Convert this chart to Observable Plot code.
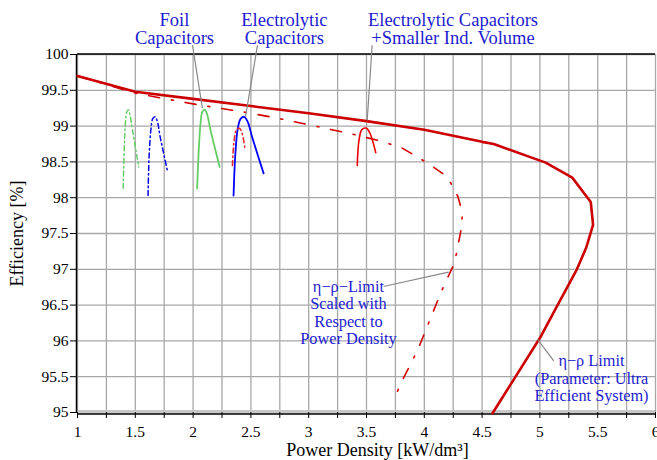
<!DOCTYPE html>
<html><head><meta charset="utf-8">
<script src="https://cdn.jsdelivr.net/npm/d3@7"></script>
<script src="https://cdn.jsdelivr.net/npm/@observablehq/plot@0.6"></script>
<style>
body{margin:0;background:#fff}
svg{display:block}
svg, svg text, svg tspan {font-family: "Liberation Serif", "Times New Roman", "DejaVu Serif", serif !important;}
</style>
</head><body><div id="chart"></div>
<script>
// ---- tick values ----
const xTicks = [1,1.25,1.5,1.75,2,2.25,2.5,2.75,3,3.25,3.5,3.75,4,4.25,4.5,4.75,5,5.25,5.5,5.75,6];
const yTicks = [95,95.5,96,96.5,97,97.5,98,98.5,99,99.5,100];

// ---- series: η-ρ limit (ultra efficient system) ----
const limitX = [1,1.5,2,2.5,3,3.5,4,4.5,4.6,5.05,5.28,5.44,5.46,5.40,5.32,5.16,5.0,4.59];
const limitY = [99.7,99.48,99.38,99.28,99.18,99.07,98.95,98.78,98.75,98.49,98.28,97.94,97.62,97.30,97.0,96.52,96.04,94.99];

// ---- series: η-ρ limit scaled with respect to power density ----
const scaledX = [1,1.5,2,2.5,2.76,3.0,3.4,3.6,3.8,3.95,4.06,4.2,4.29,4.33,4.32,4.28,4.25,4.15,4.08,4.02,3.95,3.88,3.8,3.73];
const scaledY = [99.7,99.46,99.31,99.18,99.1,99.02,98.88,98.8,98.7,98.56,98.45,98.29,98.02,97.79,97.57,97.23,97.05,96.7,96.42,96.18,95.9,95.67,95.42,95.15];

// ---- small design curves ----
const foilDashX = [1.395,1.405,1.415,1.427,1.44,1.455,1.475,1.53];
const foilDashY = [98.13,98.7,99.05,99.2,99.23,99.15,98.95,98.43];
const elecDashX = [1.61,1.62,1.635,1.65,1.67,1.69,1.715,1.78];
const elecDashY = [98.03,98.6,98.95,99.1,99.13,99.07,98.85,98.36];
const foilX = [2.035,2.05,2.065,2.08,2.10,2.12,2.15,2.23];
const foilY = [98.13,98.7,99.05,99.2,99.23,99.17,98.95,98.43];
const elecX = [2.35,2.365,2.385,2.41,2.44,2.47,2.51,2.61];
const elecY = [98.03,98.6,98.95,99.1,99.13,99.07,98.85,98.34];
const redDashX = [2.34,2.355,2.375,2.40,2.42,2.45];
const redDashY = [98.45,98.8,98.95,98.97,98.92,98.67];
const redX = [3.42,3.435,3.46,3.50,3.53,3.58];
const redY = [98.45,98.8,98.95,98.97,98.9,98.63];

// ---- annotations ----
const topLabels = ["Foil\nCapacitors","Electrolytic\nCapacitors","Electrolytic Capacitors\n+Smaller Ind. Volume"];
const topLabelX = [1.839,2.79,4.248];
const topLabelY = [100.35,100.35,100.35];
const innerLabels = ["η−ρ−Limit\nScaled with\nRespect to\nPower Density","η−ρ Limit\n(Parameter: Ultra\nEfficient System)"];
const innerLabelX = [3.344,5.446];
const innerLabelY = [96.40,95.479];
const pointerX1 = [1.995,2.557,3.549,3.647,4.98];
const pointerY1 = [100.13,100.13,100.13,96.76,96.02];
const pointerX2 = [2.08,2.453,3.506,4.21,5.12];
const pointerY2 = [99.25,99.13,99.08,96.96,95.72];

const pts = (xs, ys) => xs.map((x, i) => ({x, y: ys[i]}));
const labels = (t, xs, ys) => t.map((s, i) => ({text: s, x: xs[i], y: ys[i]}));
const pointers = pointerX1.map((x1, i) => ({x1, y1: pointerY1[i], x2: pointerX2[i], y2: pointerY2[i]}));

const dashdotBig = "11,12,2,12";
const dashdotSmall = "5,3,1.5,3";
const blueText = "#1c1cd0";
const serif = '"Liberation Serif", "Times New Roman", serif';

const chart = Plot.plot({
  width: 657,
  height: 460,
  marginLeft: 77,
  marginRight: 2,
  marginTop: 54,
  marginBottom: 48,
  style: {fontFamily: serif, fontSize: "15.5px", background: "#fff", overflow: "visible"},
  x: {domain: [1, 6]},
  y: {domain: [95, 100]},
  marks: [
    Plot.gridX(xTicks, {stroke: "#a8a8a8", strokeOpacity: 1, strokeWidth: 1.3}),
    Plot.gridY(yTicks, {stroke: "#a8a8a8", strokeOpacity: 1, strokeWidth: 1.3}),
    Plot.ruleY([95], {stroke: "#c8c8c8", strokeWidth: 3, dy: -1}),
    Plot.ruleY([100], {stroke: "#000", strokeWidth: 1.5, dy: -0.5}),
    Plot.ruleY([95], {stroke: "#000", strokeWidth: 1.5, dy: 1.5}),
    Plot.ruleX([1], {stroke: "#000", strokeWidth: 1.5, dx: -1}),
    Plot.line(pts(scaledX, scaledY), {x: "x", y: "y", stroke: "#d40000", strokeWidth: 1.6, strokeDasharray: dashdotBig}),
    Plot.line(pts(limitX, limitY), {x: "x", y: "y", stroke: "#cc0000", strokeWidth: 2.6}),
    Plot.line(pts(foilDashX, foilDashY), {x: "x", y: "y", curve: "catmull-rom", stroke: "#66cc66", strokeWidth: 1.5, strokeDasharray: dashdotSmall}),
    Plot.line(pts(elecDashX, elecDashY), {x: "x", y: "y", curve: "catmull-rom", stroke: "#0000ee", strokeWidth: 1.5, strokeDasharray: dashdotSmall}),
    Plot.line(pts(foilX, foilY), {x: "x", y: "y", curve: "catmull-rom", stroke: "#66cc66", strokeWidth: 1.8}),
    Plot.line(pts(elecX, elecY), {x: "x", y: "y", curve: "catmull-rom", stroke: "#0000ff", strokeWidth: 1.8}),
    Plot.line(pts(redDashX, redDashY), {x: "x", y: "y", curve: "catmull-rom", stroke: "#ee2222", strokeWidth: 1.5, strokeDasharray: dashdotSmall}),
    Plot.line(pts(redX, redY), {x: "x", y: "y", curve: "catmull-rom", stroke: "#ee0000", strokeWidth: 1.6}),
    Plot.link(pointers, {x1: "x1", y1: "y1", x2: "x2", y2: "y2", stroke: "#888", strokeWidth: 1.2}),
    Plot.text(labels(topLabels, topLabelX, topLabelY), {x: "x", y: "y", text: "text", fill: blueText, fontSize: 18.5, fontFamily: serif, lineHeight: 0.99, textAnchor: "middle", lineAnchor: "middle"}),
    Plot.text(labels(innerLabels, innerLabelX, innerLabelY), {x: "x", y: "y", text: "text", fill: blueText, fontSize: 16.3, fontFamily: serif, lineHeight: 1.07, textAnchor: "middle", lineAnchor: "middle"}),
    Plot.axisX(xTicks, {tickSize: 6, tickPadding: 7, fontSize: 15.5, fontFamily: serif, tickFormat: d => Number.isInteger(d * 2) ? String(d) : "", label: null}),
    Plot.axisY(yTicks, {tickSize: 7, tickPadding: 2, fontSize: 15.5, fontFamily: serif, tickFormat: d => String(d), label: null}),
    Plot.text(["Power Density [kW/dm³]"], {frameAnchor: "bottom", textAnchor: "middle", lineAnchor: "middle", dx: 11, dy: 38, fontSize: 18, fontFamily: serif, fill: "#000"}),
    Plot.text(["Efficiency [%]"], {frameAnchor: "left", textAnchor: "middle", lineAnchor: "middle", rotate: -90, dx: -60, fontSize: 18, fontFamily: serif, fill: "#000"})
  ]
});
document.getElementById("chart").appendChild(chart);
</script>
</body></html>
